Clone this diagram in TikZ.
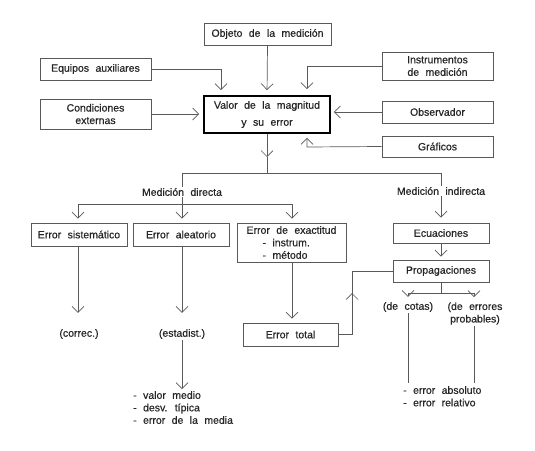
\documentclass[tikz,border=0pt]{standalone}
\usepackage{fontspec}
\setmainfont{Liberation Sans}[WordSpace=2.2, FakeBold=0.6]
\usetikzlibrary{arrows.meta}
\tikzset{
  txt/.style={inner sep=0pt, text=black!85, font=\fontsize{10.5}{12.5}\selectfont, align=center},
  box/.style={txt, draw=gray!70!black, line width=0.7pt, minimum height=#1, inner sep=0pt},
  box/.default=22pt,
  conn/.style={draw=gray!70!black, line width=0.7pt},
  arr/.style={conn, -{Straight Barb[length=6pt,width=12pt,line width=0.7pt]}},
}
\begin{document}
\begin{tikzpicture}[x=1pt,y=-1pt]
\useasboundingbox (0,0) rectangle (535,450);
% top nodes
\node[box, minimum width=127pt] (objeto) at (267.5,34) {Objeto de la medición};
\node[box, minimum width=111pt] (equipos) at (95.5,69) {Equipos auxiliares};
\node[box=30pt, minimum width=111pt] (cond) at (95.5,114) {Condiciones\\externas};
\node[txt, draw=black, line width=1.8pt, minimum width=126pt, minimum height=37pt, font=\fontsize{10.5}{17}\selectfont] (valor) at (267,114.5) {Valor de la magnitud\\y su error};
\node[box=28pt, minimum width=111pt] (instr) at (437.5,66) {Instrumentos\\de medición};
\node[box, minimum width=111pt] (obs) at (437.5,112) {Observador};
\node[box=21pt, minimum width=111pt] (graf) at (437.5,146.5) {Gráficos};
% middle
\node[txt, fill=white, inner sep=1pt] (directa) at (182,192) {Medición directa};
\node[txt, fill=white, inner sep=1pt] (indirecta) at (441,191) {Medición indirecta};
\node[box=23pt, minimum width=96pt] (sist) at (79,234.5) {Error sistemático};
\node[box=23pt, minimum width=96pt] (alea) at (181,234.5) {Error aleatorio};
\node[box=39pt, minimum width=109pt, align=left] (exact) at (291.5,242.5) {Error de exactitud\\\hspace*{16pt}- instrum.\\\hspace*{16pt}- método};
\node[box=20pt, minimum width=96pt] (ecu) at (441,233) {Ecuaciones};
\node[box, minimum width=96pt] (prop) at (441,271) {Propagaciones};
\node[box=23pt, minimum width=95pt] (total) at (290.5,334.5) {Error total};
% lower texts
\node[txt, inner sep=1pt] (correc) at (79,334) {(correc.)};
\node[txt, inner sep=1pt] (estadist) at (182,334) {(estadist.)};
\node[txt, anchor=north west, align=left] (lista1) at (133,391) {- valor medio\\- desv. típica\\- error de la media};
\node[txt, inner sep=1pt] (cotas) at (408,307) {(de cotas)};
\node[txt, inner sep=1pt] (probables) at (475,313.5) {(de errores\\probables)};
\node[txt, anchor=north west, align=left] (lista2) at (403,386) {- error absoluto\\- error relativo};
% coordinates
\coordinate (c1) at (221,69);
\coordinate (c2) at (307,66);
\coordinate (c3) at (307,147);
\coordinate (m1) at (267,157);
\coordinate (split) at (267,173);
\coordinate (sl) at (182,173);
\coordinate (sr) at (441,173);
\coordinate (d0) at (182,204);
\coordinate (dl) at (78,204);
\coordinate (dr) at (292,204);
\coordinate (p0) at (441,293);
\coordinate (pl) at (408,293);
\coordinate (pr) at (474,293);
\coordinate (t1) at (352,334.5);
\coordinate (t2) at (352,293);
\coordinate (t3) at (352,271);
\coordinate (e1) at (408,383);
\coordinate (e2) at (474,383);
% top arrows
\draw[arr, shorten >=5pt] (equipos.east) -- (c1) -- (c1 |- valor.north);
\draw[arr, shorten >=5pt] (objeto.south) -- (valor.north);
\draw[arr, shorten >=4pt] (cond.east) -- (cond.east -| valor.west);
\draw[arr, shorten >=6pt] (instr.west) -- (c2) -- (c2 |- valor.north);
\draw[arr, shorten >=3pt] (obs.west) -- (obs.west -| valor.east);
\draw[arr, shorten >=4pt] (graf.west) -- (c3) -- (c3 |- valor.south);
% split
\draw[arr] (valor.south) -- (m1);
\draw[conn] (m1) -- (split);
\draw[conn] (sl) -- (sr);
\draw[conn] (sl) -- (directa.north);
\draw[conn] (sr) -- (indirecta.north);
\draw[conn] (directa.south) -- (d0);
\draw[conn] (dl) -- (dr);
\draw[arr, shorten >=4pt] (dl) -- (dl |- sist.north);
\draw[arr, shorten >=4pt] (d0) -- (d0 |- alea.north);
\draw[arr, shorten >=4pt] (dr) -- (dr |- exact.north);
% indirect
\draw[arr, shorten >=5pt] (indirecta.south) -- (ecu.north);
\draw[arr, shorten >=3pt] (ecu.south) -- (prop.north);
\draw[conn] (prop.south) -- (p0);
\draw[conn] (pl) -- (pr);
\draw[arr, shorten >=4pt] (pl) -- (cotas.north -| pl);
\draw[arr, shorten >=4pt] (pr) -- (probables.north -| pr);
\draw[conn] (cotas.south -| pl) -- (e1);
\draw[conn] (probables.south -| pr) -- (e2);
% direct branches
\draw[arr, shorten >=15pt] (sist.south -| dl) -- (correc.north -| dl);
\draw[arr, shorten >=15pt] (alea.south -| d0) -- (estadist.north -| d0);
\draw[arr, shorten >=4pt] (exact.south -| dr) -- (total.north -| dr);
\draw[arr, shorten >=2pt] (estadist.south) -- (lista1.north -| estadist.south);
% error total to propagaciones
\draw[conn] (total.east) -- (t1) -- (t2);
\draw[arr] (t1) -- (t2);
\draw[conn] (t2) -- (t3) -- (prop.west);
\end{tikzpicture}
\end{document}
